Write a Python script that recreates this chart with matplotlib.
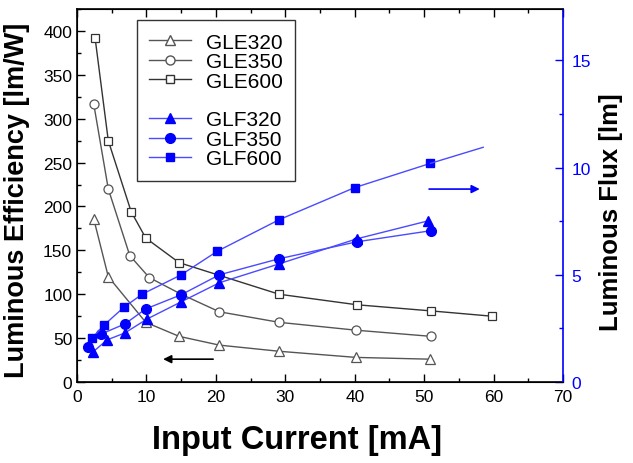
import matplotlib
matplotlib.use("Agg")
import matplotlib.pyplot as plt
from matplotlib.lines import Line2D
from matplotlib.ticker import MultipleLocator

plt.rcParams['font.family'] = ['Liberation Sans', 'DejaVu Sans']

# Luminous efficiency (left axis) [lm/W]
gle320_x = [2.4, 4.5, 9.9, 14.7, 20.5, 29.1, 40.2, 50.8]
gle320_y = [186, 120, 68, 52, 42, 35, 28, 26]
gle350_x = [2.4, 4.5, 7.6, 10.4, 15.0, 20.5, 29.1, 40.2, 51.0]
gle350_y = [317, 220, 144, 119, 100, 80, 68, 59, 52]
gle600_x = [2.6, 4.5, 7.8, 9.9, 14.7, 29.1, 40.3, 51.0, 59.7]
gle600_y = [392, 275, 194, 164, 136, 100, 88, 81, 75]

# Luminous flux (right axis) [lm]
glf320_x = [2.3, 4.3, 6.9, 10.1, 15.0, 20.5, 29.1, 40.3, 50.6]
glf320_y = [1.40, 1.96, 2.29, 2.94, 3.74, 4.63, 5.51, 6.68, 7.52]
glf350_x = [1.6, 3.5, 6.9, 9.9, 15.0, 20.5, 29.1, 40.3, 51.0]
glf350_y = [1.64, 2.24, 2.71, 3.41, 4.07, 5.00, 5.75, 6.54, 7.06]
glf600_x = [2.2, 3.9, 6.8, 9.4, 15.0, 20.2, 29.1, 40.0, 50.9]
glf600_y = [2.06, 2.66, 3.50, 4.10, 5.00, 6.10, 7.57, 9.07, 10.20]
# trend line extension of GLF600 (no marker)
glf600_ext_x = [50.9, 58.5]
glf600_ext_y = [10.20, 10.95]

gray = '#555555'
blue = '#0000ff'
lblue = '#4a4aff'

fig = plt.figure(figsize=(6.33, 4.64), dpi=100)
ax = fig.add_axes([0.1217, 0.1746, 0.7678, 0.8038])
ax2 = ax.twinx()

ms = 6.5
ax.plot(gle320_x, gle320_y, '-', color=gray, lw=1, marker='^', ms=ms, mfc='white', mec=gray, mew=0.9)
ax.plot(gle350_x, gle350_y, '-', color=gray, lw=1, marker='o', ms=ms, mfc='white', mec=gray, mew=0.9)
ax.plot(gle600_x, gle600_y, '-', color='#333333', lw=1, marker='s', ms=ms - 0.5, mfc='white', mec='#333333', mew=0.9)

ax2.plot(glf320_x, glf320_y, '-', color=lblue, lw=1, marker='^', ms=7.5, mfc=blue, mec=blue)
ax2.plot(glf350_x, glf350_y, '-', color=lblue, lw=1, marker='o', ms=7, mfc=blue, mec=blue)
ax2.plot(glf600_x, glf600_y, '-', color=lblue, lw=1, marker='s', ms=6.2, mfc=blue, mec=blue)
ax2.plot(glf600_ext_x, glf600_ext_y, '-', color=lblue, lw=1)

ax.set_xlim(0, 70)
ax.set_ylim(0, 425)
ax2.set_ylim(0, 17.4)

ax.xaxis.set_major_locator(MultipleLocator(10))
ax.xaxis.set_minor_locator(MultipleLocator(5))
ax.yaxis.set_major_locator(MultipleLocator(50))
ax.yaxis.set_minor_locator(MultipleLocator(25))
ax2.yaxis.set_major_locator(MultipleLocator(5))
ax2.yaxis.set_minor_locator(MultipleLocator(2.5))

ax.tick_params(axis='both', which='both', direction='in', top=True, right=False, labelsize=12.5)
ax.tick_params(axis='both', which='major', length=6, width=1)
ax.tick_params(axis='both', which='minor', length=3, width=1)
ax.tick_params(axis='x', which='major', pad=5)
ax2.tick_params(axis='y', which='both', direction='in', colors=blue, labelsize=12.5)
ax2.tick_params(axis='y', which='major', length=6, width=1, pad=6)
ax2.tick_params(axis='y', which='minor', length=3, width=1)
ax2.spines['right'].set_color(blue)
ax2.spines['right'].set_linewidth(1.2)
for s in ['left', 'bottom', 'top']:
    ax.spines[s].set_linewidth(1.2)
ax.spines['right'].set_visible(False)

ax.set_xlabel('Input Current [mA]', fontsize=23.5, fontweight='bold')
ax.xaxis.set_label_coords(0.453, -0.112)
ax.set_ylabel('Luminous Efficiency [lm/W]', fontsize=19.5, fontweight='bold')
ax.yaxis.set_label_coords(-0.097, 0.49)
ax2.set_ylabel('Luminous Flux [lm]', fontsize=18.5, fontweight='bold', color='black')
ax2.yaxis.set_label_coords(1.073, 0.458)

# arrows
ax.annotate('', xy=(12.0, 26), xytext=(20.0, 26),
            arrowprops=dict(arrowstyle='-|>', color='black', lw=1.2, mutation_scale=12))
ax2.annotate('', xy=(58.4, 9.0), xytext=(50.3, 9.0),
             arrowprops=dict(arrowstyle='-|>', color=blue, lw=1.2, mutation_scale=12))

handles = [
    Line2D([], [], color=gray, lw=1, marker='^', ms=ms, mfc='white', mec=gray),
    Line2D([], [], color=gray, lw=1, marker='o', ms=ms, mfc='white', mec=gray),
    Line2D([], [], color='#333333', lw=1, marker='s', ms=ms - 0.5, mfc='white', mec='#333333'),
    Line2D([], [], color='none', lw=0),
    Line2D([], [], color=lblue, lw=1, marker='^', ms=7.5, mfc=blue, mec=blue),
    Line2D([], [], color=lblue, lw=1, marker='o', ms=7, mfc=blue, mec=blue),
    Line2D([], [], color=lblue, lw=1, marker='s', ms=6.2, mfc=blue, mec=blue),
]
labels = ['GLE320', 'GLE350', 'GLE600', ' ', 'GLF320', 'GLF350', 'GLF600']
leg = ax2.legend(handles, labels, loc='upper left', bbox_to_anchor=(0.123, 0.97),
                 fontsize=15, frameon=True, fancybox=False, edgecolor='black',
                 handlelength=2.0, handletextpad=0.7, labelspacing=0.02,
                 borderpad=0.6, borderaxespad=0)
leg.get_frame().set_linewidth(1.0)

fig.savefig('out.png', dpi=100)
